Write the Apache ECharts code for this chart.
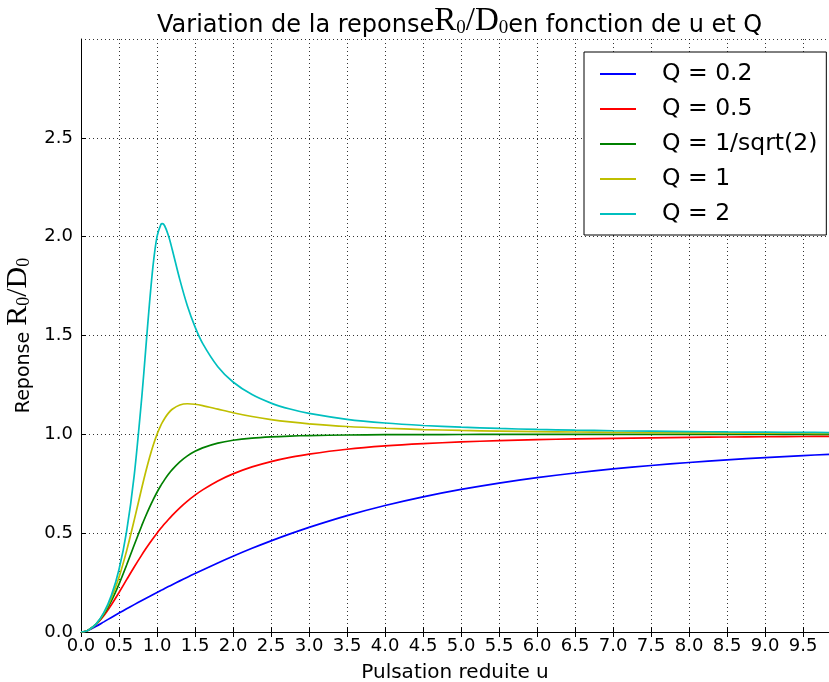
<!DOCTYPE html>
<html>
<head>
<meta charset="utf-8">
<script src="https://cdn.jsdelivr.net/npm/echarts@6/dist/echarts.min.js"></script>
<style>html,body{margin:0;padding:0;background:#fff;}#c{width:829px;height:682px;}</style>
</head>
<body>
<div id="c"></div>
<script>
// Reduced pulsation u (x values)
const uValues = [0, 0.05, 0.1, 0.2, 0.3, 0.4, 0.5, 0.6, 0.7, 0.8, 0.85, 0.9, 0.95, 1.0, 1.05, 1.07, 1.1, 1.15, 1.2, 1.3, 1.4, 1.5, 1.6, 1.8, 2.0, 2.25, 2.5, 2.75, 3.0, 3.5, 4.0, 4.5, 5.0, 5.5, 6.0, 6.5, 7.0, 7.5, 8.0, 8.5, 9.0, 9.5, 9.85];
// Response R0/D0 read for each Q
const q02 = [0, 0.0024, 0.0090, 0.0289, 0.0513, 0.0738, 0.0958, 0.1174, 0.1385, 0.1594, 0.1696, 0.1798, 0.1900, 0.2000, 0.2100, 0.2139, 0.2198, 0.2296, 0.2394, 0.2586, 0.2774, 0.2959, 0.3141, 0.3493, 0.3831, 0.4233, 0.4610, 0.4964, 0.5294, 0.5888, 0.6400, 0.6839, 0.7214, 0.7535, 0.7810, 0.8045, 0.8248, 0.8424, 0.8576, 0.8709, 0.8825, 0.8926, 0.8991];
const q05 = [0, 0.0025, 0.0099, 0.0385, 0.0826, 0.1379, 0.2000, 0.2647, 0.3289, 0.3902, 0.4195, 0.4475, 0.4744, 0.5000, 0.5244, 0.5338, 0.5475, 0.5694, 0.5902, 0.6283, 0.6622, 0.6923, 0.7191, 0.7642, 0.8000, 0.8351, 0.8621, 0.8832, 0.9000, 0.9245, 0.9412, 0.9529, 0.9615, 0.9680, 0.9730, 0.9769, 0.9800, 0.9825, 0.9846, 0.9864, 0.9878, 0.9890, 0.9898];
const q07 = [0, 0.0025, 0.0100, 0.0400, 0.0896, 0.1580, 0.2425, 0.3387, 0.4400, 0.5391, 0.5856, 0.6294, 0.6700, 0.7071, 0.7407, 0.7532, 0.7708, 0.7976, 0.8214, 0.8606, 0.8908, 0.9138, 0.9315, 0.9555, 0.9701, 0.9810, 0.9874, 0.9914, 0.9939, 0.9967, 0.9981, 0.9988, 0.9992, 0.9995, 0.9996, 0.9997, 0.9998, 0.9998, 0.9999, 0.9999, 0.9999, 0.9999, 1.0000];
const q1 = [0, 0.0025, 0.0101, 0.0408, 0.0939, 0.1720, 0.2774, 0.4104, 0.5658, 0.7295, 0.8080, 0.8806, 0.9450, 1.0000, 1.0450, 1.0603, 1.0805, 1.1073, 1.1267, 1.1483, 1.1546, 1.1523, 1.1456, 1.1275, 1.1094, 1.0901, 1.0748, 1.0628, 1.0534, 1.0397, 1.0307, 1.0243, 1.0198, 1.0164, 1.0138, 1.0118, 1.0102, 1.0088, 1.0078, 1.0069, 1.0062, 1.0055, 1.0051];
const q2 = [0, 0.0025, 0.0101, 0.0414, 0.0976, 0.1853, 0.3162, 0.5093, 0.7922, 1.1893, 1.4235, 1.6582, 1.8612, 2.0000, 2.0611, 2.0656, 2.0553, 2.0060, 1.9354, 1.7828, 1.6497, 1.5435, 1.4602, 1.3422, 1.2649, 1.2010, 1.1581, 1.1279, 1.1057, 1.0760, 1.0573, 1.0448, 1.0361, 1.0297, 1.0248, 1.0211, 1.0181, 1.0158, 1.0138, 1.0122, 1.0109, 1.0098, 1.0091];
const seriesNames = ['Q = 0.2', 'Q = 0.5', 'Q = 1/sqrt(2)', 'Q = 1', 'Q = 2'];
const seriesColors = ['#0000ff', '#ff0000', '#008000', '#bfbf00', '#00bfbf'];
const seriesValues = [q02, q05, q07, q1, q2];

const chart = echarts.init(document.getElementById('c'), null, {renderer: 'canvas'});
const sans = 'DejaVu Sans';
const serif = 'Liberation Serif';
const onGrid = v => Math.abs(v / 0.5 - Math.round(v / 0.5)) < 1e-6;

const option = {
  backgroundColor: '#fff',
  animation: false,
  title: {
    text: '{a|Variation de la reponse}{m|R}{s|0}{m|/D}{s|0}{a|en fonction de u et Q}',
    left: 152, top: 1,
    textStyle: {
      fontWeight: 'normal',
      rich: {
        a: {fontFamily: sans, fontSize: 24, fontWeight: 'normal', color: '#000', verticalAlign: 'bottom', lineHeight: 32},
        m: {fontFamily: serif, fontSize: 33, fontWeight: 'normal', color: '#000', verticalAlign: 'bottom', lineHeight: 32},
        s: {fontFamily: serif, fontSize: 19, fontWeight: 'normal', color: '#000', verticalAlign: 'bottom', lineHeight: 26}
      }
    }
  },
  legend: {
    orient: 'vertical',
    left: 584, top: 52,
    backgroundColor: '#fff',
    borderColor: '#000', borderWidth: 1,
    padding: [10, 9, 9, 16],
    itemGap: 11,
    itemWidth: 36, itemHeight: 2,
    icon: 'rect',
    textStyle: {fontFamily: sans, fontSize: 23.5, color: '#000', lineHeight: 24, padding: [0, 0, 0, 21]},
    data: seriesNames
  },
  grid: {left: 81, right: 0, top: 39, bottom: 50, containLabel: false, outerBoundsMode: 'none'},
  xAxis: [{
    type: 'value', min: 0, max: 9.84, interval: 0.5,
    name: 'Pulsation reduite u', nameLocation: 'middle', nameGap: 31,
    nameTextStyle: {fontFamily: sans, fontSize: 20, color: '#000'},
    axisLine: {show: true, onZero: false, lineStyle: {color: '#000', width: 1}},
    axisTick: {show: true, inside: true, length: 5, lineStyle: {color: '#000'}},
    axisLabel: {fontFamily: sans, fontSize: 18, color: '#000', margin: 5,
      formatter: v => onGrid(v) ? v.toFixed(1) : ''},
    splitLine: {show: true, lineStyle: {color: '#000', type: [1, 3], width: 1, opacity: 0.8}}
  }, {
    type: 'value', position: 'top', min: 0, max: 9.84, interval: 0.5,
    axisLine: {show: true, lineStyle: {color: '#000', width: 1}},
    axisTick: {show: true, inside: true, length: 5, lineStyle: {color: '#000'}},
    axisLabel: {show: false},
    splitLine: {show: false}
  }],
  yAxis: {
    type: 'value', min: 0, max: 3, interval: 0.5,
    name: '{a|Reponse }{m|R}{s|0}{m|/D}{s|0}', nameLocation: 'middle', nameGap: 43, nameRotate: 90,
    nameTextStyle: {
      rich: {
        a: {fontFamily: sans, fontSize: 19, color: '#000', verticalAlign: 'bottom', lineHeight: 30},
        m: {fontFamily: serif, fontSize: 30, color: '#000', verticalAlign: 'bottom', lineHeight: 30},
        s: {fontFamily: serif, fontSize: 18, color: '#000', verticalAlign: 'bottom', lineHeight: 24}
      }
    },
    axisLine: {show: true, lineStyle: {color: '#000', width: 1}},
    axisTick: {show: true, inside: true, length: 5, lineStyle: {color: '#000'}},
    axisLabel: {fontFamily: sans, fontSize: 18, color: '#000', margin: 8, showMaxLabel: false,
      formatter: v => v.toFixed(1)},
    splitLine: {show: true, lineStyle: {color: '#000', type: [1, 3], width: 1, opacity: 0.8}}
  },
  series: seriesNames.map((name, i) => ({
    name: name,
    type: 'line',
    showSymbol: false,
    smooth: 0.3,
    clip: true,
    color: seriesColors[i],
    lineStyle: {color: seriesColors[i], width: 1.7},
    data: uValues.map((u, j) => [u, seriesValues[i][j]])
  }))
};
chart.setOption(option);
</script>
</body>
</html>
